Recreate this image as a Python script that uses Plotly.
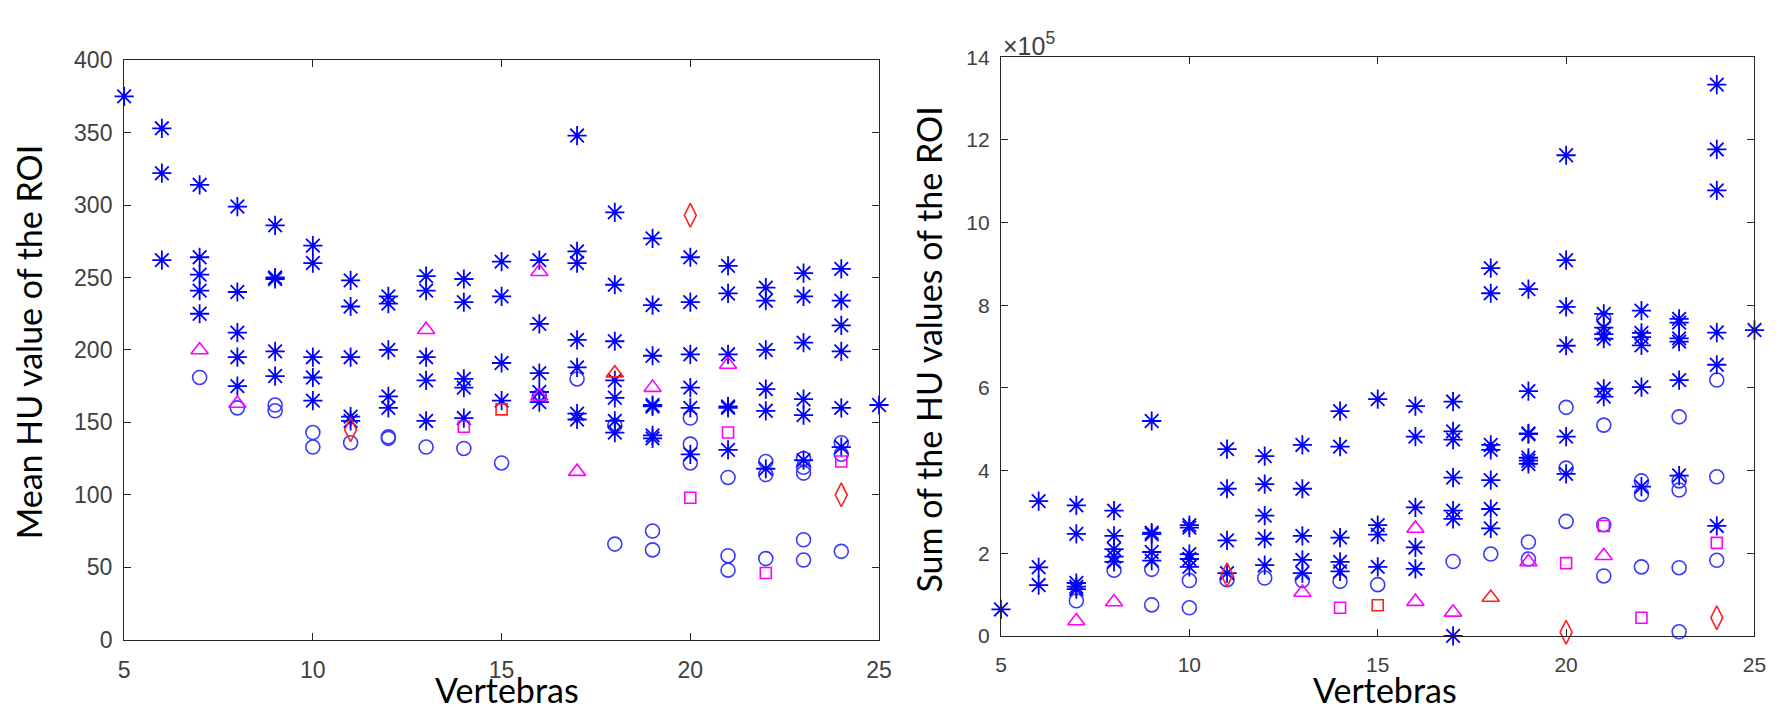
import plotly.graph_objects as go

# vertebra index for the per-vertebra lists below
vertebrae = list(range(5, 26))

# ---- left panel: mean HU value of the ROI ----
mean_star = [
    [375], [353, 322, 262], [314, 264, 252, 241, 225], [299, 240, 212, 195, 175],
    [286, 250, 249, 199, 182], [272, 260, 195, 181, 165], [248, 230, 195, 154, 151],
    [237, 232, 200, 168, 160], [251, 241, 195, 179, 151], [249, 233, 180, 174, 153],
    [261, 237, 191, 165], [262, 218, 184, 171, 164], [348, 268, 260, 207, 188, 156, 152],
    [295, 245, 206, 179, 167, 151, 143], [277, 231, 196, 162, 161, 141, 139],
    [264, 233, 197, 174, 160, 128], [258, 239, 197, 161, 160, 131],
    [243, 234, 200, 173, 158, 118], [253, 237, 205, 166, 155, 124],
    [256, 234, 217, 199, 160, 133], [162],
]
mean_circle = [
    [], [], [181], [160], [162, 158], [143, 133], [136], [140, 139], [133], [132],
    [122], [168], [180], [148, 66], [75, 62], [153, 135, 122], [112, 58, 48],
    [123, 114, 56], [125, 119, 115, 69, 55], [136, 128, 61], [],
]
mean_tri_m_x = [7, 8, 13, 16, 16, 17, 19, 21]
mean_tri_m_y = [200, 163, 214, 254, 168, 116, 174, 190]
mean_sq_m_x = [14, 20, 21, 22, 24]
mean_sq_m_y = [147, 98, 143, 46, 123]
mean_dia_r_x = [11, 20, 24]
mean_dia_r_y = [145, 293, 100]
mean_tri_r_x = [18]
mean_tri_r_y = [184]
mean_sq_r_x = [15]
mean_sq_r_y = [159]

# ---- right panel: sum of HU values of the ROI (x 10^5) ----
sum_star = [
    [0.64], [3.26, 1.66, 1.23], [3.16, 2.47, 1.28, 1.19, 1.13], [3.03, 2.42, 2.10, 1.92, 1.79],
    [5.20, 2.50, 2.46, 2.03, 1.82], [2.68, 2.62, 1.98, 1.86, 1.67], [4.52, 3.56, 2.31, 1.52],
    [4.35, 3.67, 2.91, 2.35, 1.71], [4.62, 3.56, 2.42, 1.84, 1.52], [5.44, 4.58, 2.38, 1.79, 1.56],
    [5.73, 2.68, 2.45, 1.67], [5.56, 4.82, 3.11, 2.14, 1.62],
    [5.67, 4.95, 4.75, 3.83, 3.03, 2.83, 0.0], [8.90, 8.29, 4.62, 4.50, 3.77, 3.07, 2.60],
    [8.39, 5.92, 4.90, 4.88, 4.31, 4.24, 4.16], [11.63, 9.09, 7.96, 7.02, 4.82, 3.92],
    [7.79, 7.46, 7.30, 7.19, 5.98, 5.79], [7.87, 7.33, 7.23, 7.03, 6.02, 3.61],
    [7.67, 7.58, 7.20, 7.12, 6.19, 3.88], [13.34, 11.77, 10.78, 7.34, 6.56, 2.66], [7.40],
]
sum_circle = [
    [], [], [0.85], [1.59], [1.61, 0.75], [1.34, 0.68], [1.36], [1.40], [1.34], [1.32],
    [1.24], [], [1.80], [1.98], [2.27, 1.86], [5.53, 4.06, 2.77], [7.67, 5.10, 2.69, 1.45],
    [3.75, 3.43, 1.67], [5.30, 3.75, 3.53, 1.65, 0.10], [6.19, 3.85, 1.83], [],
]
sum_tri_m_x = [7, 8, 13, 16, 16, 17, 19, 21]
sum_tri_m_y = [0.36, 0.82, 1.05, 2.60, 0.83, 0.57, 1.79, 1.94]
sum_sq_m_x = [14, 20, 21, 22, 24]
sum_sq_m_y = [0.68, 1.76, 2.66, 0.44, 2.25]
sum_dia_r_x = [11, 20, 24]
sum_dia_r_y = [1.48, 0.09, 0.44]
sum_tri_r_x = [18]
sum_tri_r_y = [0.93]
sum_sq_r_x = [15]
sum_sq_r_y = [0.74]

x_ticks = [5, 10, 15, 20, 25]
mean_ticks = list(range(0, 401, 50))
sum_ticks = list(range(0, 15, 2))

BLUE = "#0000ff"
MAGENTA = "#ff00ff"
RED = "#ff2020"


def flatten(per_vertebra):
    xs, ys = [], []
    for v, vals in zip(vertebrae, per_vertebra):
        for val in vals:
            xs.append(v)
            ys.append(val)
    return xs, ys


def add_points(fig, x, y, symbol, color, size, axes, width=1.6):
    fig.add_trace(go.Scatter(
        x=x, y=y, mode="markers", cliponaxis=False, showlegend=False,
        xaxis=axes[0], yaxis=axes[1],
        marker=dict(symbol=symbol, size=size, color=color,
                    line=dict(color=color, width=width)),
    ))


fig = go.Figure()

for axes, star, circ, tm, sm, dr, tr, sr in [
    (("x", "y"), mean_star, mean_circle, (mean_tri_m_x, mean_tri_m_y), (mean_sq_m_x, mean_sq_m_y),
     (mean_dia_r_x, mean_dia_r_y), (mean_tri_r_x, mean_tri_r_y), (mean_sq_r_x, mean_sq_r_y)),
    (("x2", "y2"), sum_star, sum_circle, (sum_tri_m_x, sum_tri_m_y), (sum_sq_m_x, sum_sq_m_y),
     (sum_dia_r_x, sum_dia_r_y), (sum_tri_r_x, sum_tri_r_y), (sum_sq_r_x, sum_sq_r_y)),
]:
    sx, sy = flatten(star)
    cx, cy = flatten(circ)
    add_points(fig, cx, cy, "circle-open", "#3a3aff", 14, axes)
    add_points(fig, sx, sy, "asterisk-open", BLUE, 16, axes, width=1.8)
    add_points(fig, tm[0], tm[1], "triangle-up-open", MAGENTA, 15, axes)
    add_points(fig, sm[0], sm[1], "square-open", MAGENTA, 11, axes)
    add_points(fig, dr[0], dr[1], "diamond-tall-open", RED, 17, axes)
    add_points(fig, tr[0], tr[1], "triangle-up-open", RED, 15, axes)
    add_points(fig, sr[0], sr[1], "square-open", RED, 11, axes)

axis_style = dict(
    showgrid=False, zeroline=False, showline=True, mirror="ticks",
    linecolor="#262626", linewidth=1.2, ticks="inside", ticklen=7,
    tickcolor="#262626", tickwidth=1.2,
)

fig.update_layout(
    width=1784, height=708,
    margin=dict(l=0, r=0, t=0, b=0),
    paper_bgcolor="white", plot_bgcolor="white",
    xaxis=dict(axis_style, domain=[0.0624, 0.4901], range=[5, 25], tickvals=x_ticks,
               tickfont=dict(family="Liberation Sans", size=23, color="#404040"),
               ticklabelstandoff=10, anchor="y"),
    yaxis=dict(axis_style, domain=[0.0928, 0.9425], range=[0, 400], tickvals=mean_ticks,
               tickfont=dict(family="Liberation Sans", size=23, color="#404040"),
               ticklabelstandoff=6, anchor="x"),
    xaxis2=dict(axis_style, domain=[0.5592, 0.9861], range=[5, 25], tickvals=x_ticks,
                tickfont=dict(family="Liberation Sans", size=21, color="#404040"),
                ticklabelstandoff=10, anchor="y2"),
    yaxis2=dict(axis_style, domain=[0.0984, 0.9468], range=[0, 14], tickvals=sum_ticks,
                tickfont=dict(family="Liberation Sans", size=21, color="#404040"),
                ticklabelstandoff=6, anchor="x2"),
)

title_font = dict(family="Lato", size=34, color="black")
fig.update_layout(annotations=[
    dict(text="Mean HU value of the ROI", textangle=-90, x=0.0084, y=0.530,
         xref="paper", yref="paper", xanchor="center", yanchor="middle",
         showarrow=False, font=title_font),
    dict(text="Vertebras", x=0.2791, y=0.0198, xref="paper", yref="paper",
         xanchor="center", yanchor="middle", showarrow=False, font=title_font),
    dict(text="Sum of the HU values of the ROI", textangle=-90, x=0.5183, y=0.518,
         xref="paper", yref="paper", xanchor="center", yanchor="middle",
         showarrow=False, font=title_font),
    dict(text="Vertebras", x=0.7766, y=0.0198, xref="paper", yref="paper",
         xanchor="center", yanchor="middle", showarrow=False, font=title_font),
    dict(text="×10<sup>5</sup>", x=0.5592, y=0.966, xref="paper", yref="paper",
         xanchor="left", yanchor="middle", showarrow=False,
         font=dict(family="Liberation Sans", size=25, color="#404040")),
])

fig.write_html("out.html")
